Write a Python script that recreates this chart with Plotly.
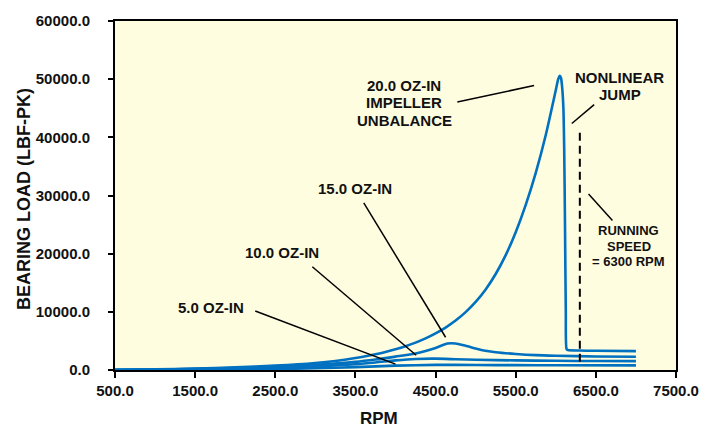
import plotly.graph_objects as go

# ---- data ----
rpm_20 = [500, 1000, 1500, 2000, 2500, 3000, 3250, 3500, 3625, 3750, 3875, 4000, 4125, 4250,
          4375, 4500, 4625, 4750, 4875, 5000, 5125, 5250, 5375, 5500, 5625, 5750, 5875,
          6000, 6030, 6050, 6065, 6080, 6095, 6105, 6115, 6125, 6135, 6150, 6300, 6500, 7000]
load_20 = [20, 100, 250, 450, 750, 1200, 1550, 2050, 2350, 2700, 3100, 3560, 4090, 4710,
           5440, 6300, 7300, 8500, 9950, 11700, 13850, 16500, 19750, 23700, 28400, 33900, 40400,
           48100, 50000, 50600, 50200, 48500, 45000, 38000, 25000, 10000, 3600, 3450, 3350, 3300, 3250]

rpm_15 = [500, 1000, 1500, 2000, 2500, 3000, 3500, 3750, 4000, 4250, 4500, 4650, 4750,
          4850, 5000, 5100, 5250, 5500, 5750, 6000, 6500, 7000]
load_15 = [15, 75, 190, 340, 560, 900, 1400, 1800, 2300, 2850, 3800, 4550, 4550,
           4250, 3700, 3350, 3050, 2750, 2550, 2450, 2330, 2280]

rpm_10 = [500, 1000, 1500, 2000, 2500, 3000, 3500, 3750, 4000, 4250, 4500, 4750,
          5000, 5500, 6000, 6500, 7000]
load_10 = [10, 50, 125, 230, 380, 600, 1000, 1300, 1650, 1900, 1950, 1850,
           1750, 1650, 1580, 1540, 1520]

rpm_5 = [500, 1000, 1500, 2000, 2500, 3000, 3500, 4000, 4500, 5000, 5500, 6000, 7000]
load_5 = [5, 25, 65, 115, 190, 300, 500, 750, 880, 860, 830, 810, 790]

running_speed = 6300

x_ticks = [500, 1500, 2500, 3500, 4500, 5500, 6500, 7500]
y_ticks = [0, 10000, 20000, 30000, 40000, 50000, 60000]

# labels: (lines, x, y, size)
labels = [
    (["5.0 OZ-IN"], 1700, [10817], 15),
    (["10.0 OZ-IN"], 2587, [20282], 15),
    (["15.0 OZ-IN"], 3500, [31268], 15),
    (["20.0 OZ-IN", "IMPELLER", "UNBALANCE"], 4112, [48896, 45921, 42930], 15),
    (["NONLINEAR", "JUMP"], 6800, [50248, 47324], 15),
    (["RUNNING", "SPEED", "= 6300 RPM"], 6912, [23949, 21245, 18710], 13),
]

# leader lines: (x0, y0, x1, y1)
leaders = [
    (2250, 10140, 4000, 1014),
    (2962, 17750, 4258, 2535),
    (3604, 28732, 4625, 5630),
    (4771, 46090, 5729, 48900),
    (6479, 45630, 6200, 42370),
    (6409, 30250, 6707, 25690),
]

blue = "#0070C0"
font_family = "Liberation Sans, Arial, sans-serif"

fig = go.Figure()
for xs, ys in [(rpm_5, load_5), (rpm_10, load_10), (rpm_15, load_15), (rpm_20, load_20)]:
    fig.add_trace(go.Scatter(x=xs, y=ys, mode="lines",
                             line=dict(color=blue, width=2.6, shape="spline", smoothing=0.7),
                             showlegend=False, hoverinfo="skip"))

for x0, y0, x1, y1 in leaders:
    fig.add_shape(type="line", xref="x", yref="y", x0=x0, y0=y0, x1=x1, y1=y1,
                  line=dict(color="black", width=1.5))

fig.add_shape(type="line", xref="x", yref="y", x0=running_speed, x1=running_speed,
              y0=1400, y1=41400, line=dict(color="black", width=2, dash="8px,5px"))

for lines, x, ys, size in labels:
    for txt, y in zip(lines, ys):
        fig.add_annotation(x=x, y=y, xref="x", yref="y", text=txt, showarrow=False,
                           xanchor="center", yanchor="middle",
                           font=dict(family=font_family, size=size, color="#111111", weight="bold"))

fig.add_annotation(x=-0.1622, y=0.49, xref="paper", yref="paper", text="BEARING LOAD (LBF-PK)",
                   textangle=-90, showarrow=False, xanchor="center", yanchor="middle",
                   font=dict(family=font_family, size=18, color="#111111", weight="bold"))
fig.add_annotation(x=0.4697, y=-0.138, xref="paper", yref="paper", text="RPM",
                   showarrow=False, xanchor="center", yanchor="middle",
                   font=dict(family=font_family, size=17, color="#111111", weight="bold"))

fig.update_layout(
    width=715, height=428,
    margin=dict(l=115, r=39, t=15, b=58),
    paper_bgcolor="white",
    plot_bgcolor="#FFFDE0",
    font=dict(family=font_family, color="#111111"),
)
fig.update_xaxes(range=[500, 7500], tickvals=x_ticks, tickformat=".1f",
                 showline=True, mirror=True, linecolor="black", linewidth=2,
                 ticks="outside", ticklen=6, tickwidth=2, tickcolor="black",
                 showgrid=False, zeroline=False, ticklabelstandoff=0,
                 tickfont=dict(family=font_family, size=15, color="#111111", weight="bold"))
fig.update_yaxes(range=[0, 60000], tickvals=y_ticks, tickformat=".1f",
                 showline=True, mirror=True, linecolor="black", linewidth=2,
                 ticks="outside", ticklen=5, tickwidth=2, tickcolor="black",
                 showgrid=False, zeroline=False, ticklabelstandoff=15,
                 tickfont=dict(family=font_family, size=15, color="#111111", weight="bold"))

fig.write_html("out.html")
